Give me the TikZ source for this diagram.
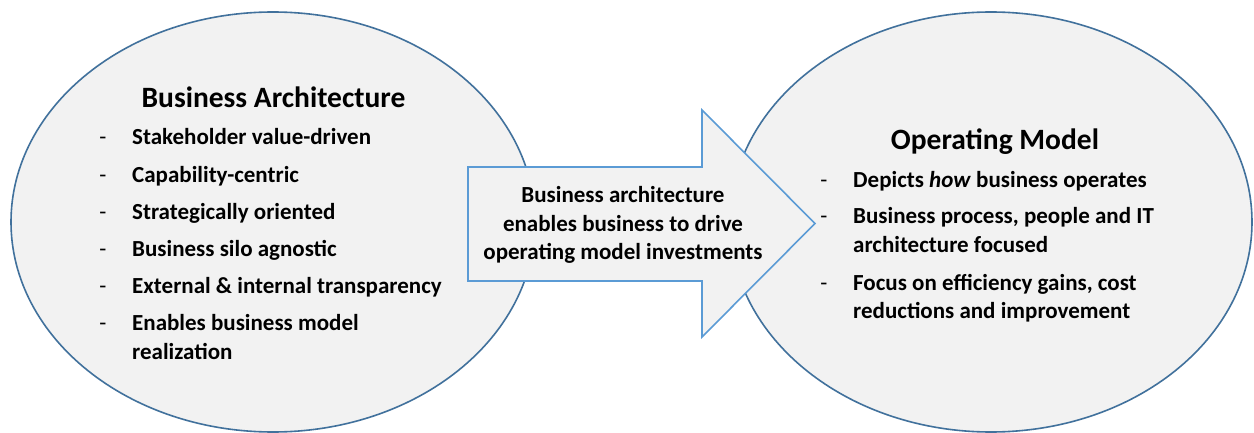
\documentclass[tikz,border=0pt]{standalone}
\usepackage{fontspec}
\setmainfont{Carlito}
\usetikzlibrary{shapes.geometric}
\definecolor{bubblefill}{HTML}{F2F2F2}
\definecolor{bubbleline}{HTML}{41719C}
\definecolor{arrowline}{HTML}{5B9BD5}
\tikzset{
  bubble/.style={ellipse, draw=bubbleline, fill=bubblefill, line width=1.6pt, inner sep=0pt},
  ttl/.style={font=\fontsize{29.5}{33}\selectfont\bfseries, anchor=base, inner sep=0pt},
  itm/.style={font=\fontsize{23}{29}\selectfont\bfseries, anchor=base west, inner sep=0pt},
  dsh/.style={font=\fontsize{23}{29}\selectfont, anchor=base, inner sep=0pt},
  arrowtext/.style={font=\fontsize{23}{28.5}\selectfont\bfseries, align=center, inner sep=0pt}
}
\begin{document}
\begin{tikzpicture}[x=1pt,y=-1pt]
\useasboundingbox[fill=white] (0,0) rectangle (1254,433);
% ellipses
\node[bubble, minimum width=524pt, minimum height=420pt] (ba) at (273,222) {};
\node[bubble, minimum width=522pt, minimum height=420pt] (om) at (991,222) {};
% arrow
\coordinate (a1) at (468,167);
\coordinate (a2) at (702,167);
\coordinate (a3) at (702,110);
\coordinate (a4) at (815,223.5);
\coordinate (a5) at (702,337);
\coordinate (a6) at (702,281);
\coordinate (a7) at (468,281);
\draw[draw=arrowline, fill=bubblefill, line width=1.6pt, line join=miter]
  (a1) -- (a2) -- (a3) -- (a4) -- (a5) -- (a6) -- (a7) -- cycle;
\node[arrowtext] (at) at (623,225) {Business architecture\\enables business to drive\\operating model investments};
% left bubble text
\node[ttl] (bat) at (273.5,107.5) {Business Architecture};
\node[dsh] (d1) at (103,145) {-};
\node[itm] (i1) at (132,145) {Stakeholder value-driven};
\node[dsh] (d2) at (103,183) {-};
\node[itm] (i2) at (132,183) {Capability-centric};
\node[dsh] (d3) at (103,219) {-};
\node[itm] (i3) at (132,219) {Strategically oriented};
\node[dsh] (d4) at (103,256) {-};
\node[itm] (i4) at (132,256) {Business silo agnostic};
\node[dsh] (d5) at (103,293) {-};
\node[itm] (i5) at (132,293) {External \& internal transparency};
\node[dsh] (d6) at (103,330) {-};
\node[itm] (i6) at (132,330) {Enables business model};
\node[itm] (i6b) at (132,359) {realization};
% right bubble text
\node[ttl] (omt) at (995,149.5) {Operating Model};
\node[dsh] (e1) at (824,188) {-};
\node[itm] (j1) at (853,188) {Depicts \textit{how} business operates};
\node[dsh] (e2) at (824,224) {-};
\node[itm] (j2) at (853,224) {Business process, people and IT};
\node[itm] (j2b) at (853,252) {architecture focused};
\node[dsh] (e3) at (824,290) {-};
\node[itm] (j3) at (853,290) {Focus on efficiency gains, cost};
\node[itm] (j3b) at (853,318) {reductions and improvement};
\end{tikzpicture}
\end{document}
